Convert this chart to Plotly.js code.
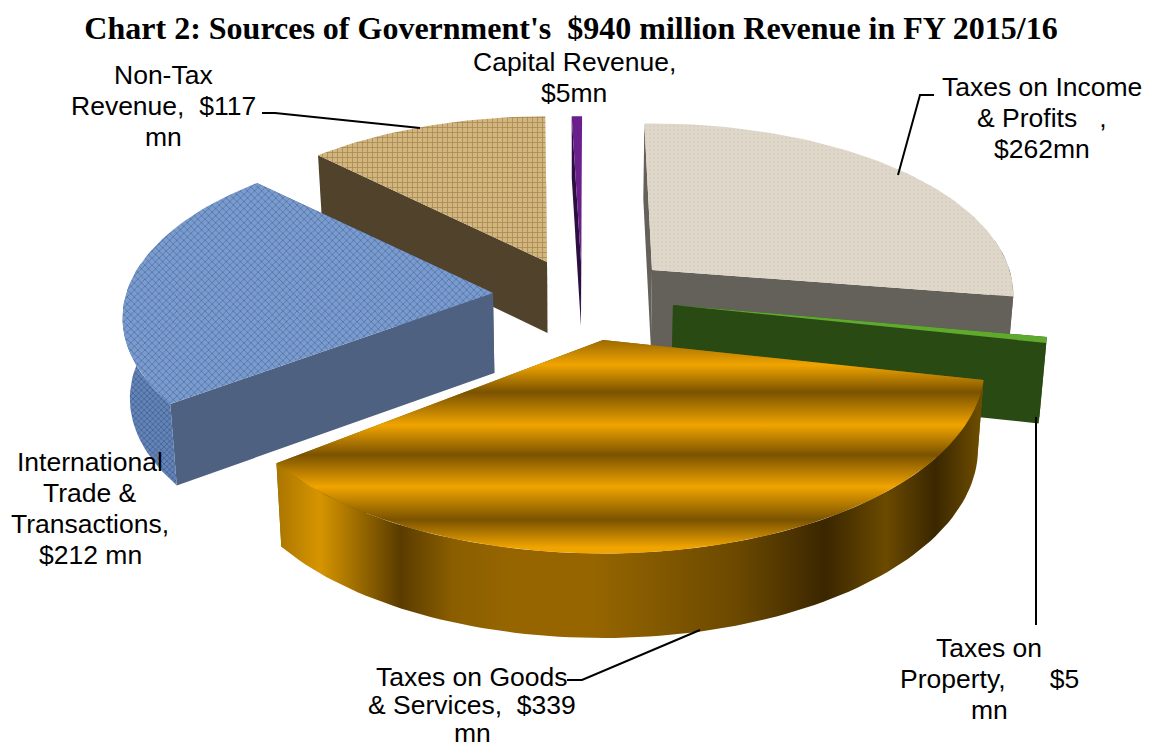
<!DOCTYPE html>
<html><head><meta charset="utf-8">
<script src="https://cdn.plot.ly/plotly-3.0.1.min.js"></script>
<style>html,body{margin:0;padding:0;background:#fff}#chart{width:1151px;height:750px}</style>
</head><body><div id="chart"></div>
<script>
// ---- data ----
const categories = ["Taxes on Income & Profits","Taxes on Property","Taxes on Goods & Services","International Trade & Transactions","Non-Tax Revenue","Capital Revenue"];
const values = [262,5,339,212,117,5];
const chartTitle = "Chart 2: Sources of Government's \u00A0$940 million Revenue in FY 2015/16";
const labelLines = [
 ["Taxes on Income","& Profits \u00A0 ,","$262mn"],
 ["Taxes on","Property, \u00A0 \u00A0 \u00A0$5","mn"],
 ["Taxes on Goods","& Services, \u00A0$339","mn"],
 ["International","Trade &","Transactions,","$212 mn"],
 ["Non-Tax","Revenue, \u00A0$117","mn"],
 ["Capital Revenue,","$5mn"]];

// ---- drawing set-up: exploded tilted-pie projection (pixel-scaled axes) ----
const apexX = [652,673,603,493,547,581];
const apexY = [270,305,340,293,262,262];
const gain  = [0.985,1.02,1.04,1.01,0.98,0.98];
const vGain = [1,1,1.035,1,1,1];
const turn  = [-1.4,0,0,1.6,1.6,0.2];
const depth = [77,80,82,80,71,64];
const labelX = [1042,989,472,90,163,574];
const labelTop = [87,648,677,462,75,62];
const labelGap = [31,31,28,31,31,31];
const R=363, A=170, K=0.143, VX=578, LEAN=0.016;

const total = values.reduce((a,b)=>a+b,0);
function pt(i,deg,r,down){
  const t=deg*Math.PI/180, u=r*Math.sin(t), v=r*Math.cos(t), s=1/(1+K*v);
  let x=apexX[i]+R*gain[i]*u*s, y=apexY[i]-A*gain[i]*vGain[i]*v*s;
  if(down){ x+=(VX-x)*LEAN; y+=depth[i]*(0.82+0.18*s); }
  return [x,y];
}
const goldTop={type:'vertical',start:335,stop:555,colorscale:[
 [0,'#8a5e00'],[0.136,'#f0a400'],[0.26,'#7a5200'],[0.41,'#f0a400'],[0.545,'#7a5200'],[0.69,'#f0a400'],[0.84,'#7a5200'],[0.965,'#f0a400'],[1,'#f0a400']]};
const goldWall={type:'horizontal',start:275,stop:985,colorscale:[
 [0,'#a87400'],[0.063,'#d69500'],[0.106,'#a87400'],[0.176,'#5a3c00'],[0.25,'#8a5e00'],[0.33,'#966500'],[0.45,'#966500'],[0.65,'#6b4900'],[0.775,'#3a2600'],[0.86,'#6b4a00'],[0.93,'#3a2700'],[0.99,'#6b4b00'],[1,'#6b4b00']]};
const styles=[
 {top:{fillpattern:{shape:'.',size:4,solidity:0.1,bgcolor:'#dfd7c9',fgcolor:'#d0c6b4'}},face:{fillcolor:'#64605a'},arc:{fillcolor:'#64605a'}},
 {top:{fillcolor:'#5fa92f'},face:{fillcolor:'#2a4a14'},arc:{fillcolor:'#2a4a14'}},
 {top:{fillgradient:goldTop},face:{fillcolor:'#8a5e00'},arc:{fillgradient:goldWall}},
 {top:{fillpattern:{shape:'x',size:5,solidity:0.3,bgcolor:'#7b9bcd',fgcolor:'#4f74ac'}},face:{fillcolor:'#4f6180'},arc:{fillpattern:{shape:'x',size:4,solidity:0.35,bgcolor:'#6484b6',fgcolor:'#3f5f95'}}},
 {top:{fillpattern:{shape:'+',size:5,solidity:0.3,bgcolor:'#d3b57e',fgcolor:'#a78a55'}},face:{fillcolor:'#50422b'},arc:{fillcolor:'#50422b'}},
 {top:{fillcolor:'#6a1f8c'},face:{fillcolor:'#2c0f40'},arc:{fillcolor:'#2c0f40'}}
];
function poly(xy,style,name){
  return Object.assign({type:'scatter',mode:'lines',fill:'toself',x:xy.map(p=>p[0]),y:xy.map(p=>p[1]),
    line:{width:0,color:'rgba(0,0,0,0)'},hoverinfo:'skip',showlegend:false,name:name},style);
}
const paintOrder=[0,1,2,4,3,5];
const starts=[]; values.reduce((acc,v,i)=>{starts[i]=acc;return acc+v/total*360;},0);
const traces=[];
paintOrder.forEach(i=>{
  const a0=starts[i]+turn[i], a1=a0+values[i]/total*360, n=Math.max(6,Math.round((a1-a0)/1.5));
  const arc=[]; for(let j=0;j<=n;j++) arc.push(a0+(a1-a0)*j/n);
  const face=d=>[pt(i,d,0,false),pt(i,d,1,false),pt(i,d,1,true),pt(i,d,0,true)];
  traces.push(poly(face(a0),styles[i].face,categories[i]+' face'));
  traces.push(poly(face(a1),styles[i].face,categories[i]+' face'));
  const front=arc.filter(d=>Math.cos(d*Math.PI/180)<0.2);
  if(front.length>1){
    traces.push(poly(front.map(d=>pt(i,d,1,false)).concat(front.slice().reverse().map(d=>pt(i,d,1,true))),styles[i].arc,categories[i]+' side'));
  }
  traces.push(poly([pt(i,a0,0,false)].concat(arc.map(d=>pt(i,d,1,false))),styles[i].top,categories[i]));
});

const leaders=[
 [[934,95],[920,95],[898,175]],
 [[1036,417],[1036,625]],
 [[567,680],[582,680],[700,630]],
 [[262,113],[275,113],[420,128]]
];
const shapes=leaders.map(l=>({type:'path',xref:'x',yref:'y',layer:'above',
  path:'M'+l.map(p=>p.join(',')).join('L'),line:{color:'#000',width:2}}));
const annotations=[];
labelLines.forEach((lines,i)=>lines.forEach((t,j)=>annotations.push({text:t,x:labelX[i],y:labelTop[i]+j*labelGap[i],
  xref:'x',yref:'y',xanchor:'center',yanchor:'middle',align:'center',showarrow:false,
  font:{family:'"Liberation Sans",Arial,sans-serif',size:26.5,color:'#000'}})));

Plotly.newPlot('chart',traces,{
  width:1151,height:750,margin:{l:0,r:0,t:0,b:0},paper_bgcolor:'#fff',plot_bgcolor:'#fff',showlegend:false,
  title:{text:chartTitle,x:571/1151,xanchor:'center',y:1-28/750,yanchor:'middle',font:{family:'"Liberation Serif",serif',size:32,color:'#000',weight:700}},
  xaxis:{range:[0,1151],visible:false,fixedrange:true},
  yaxis:{range:[750,0],visible:false,fixedrange:true},
  shapes:shapes,annotations:annotations
},{displayModeBar:false,staticPlot:true});
</script></body></html>
